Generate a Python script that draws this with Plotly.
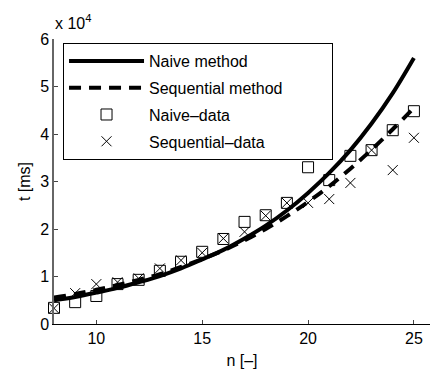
import plotly.graph_objects as go

n_curve = list(range(8, 26))
naive_method = [5000, 5700, 6600, 7600, 8800, 10100, 11700, 13600, 15600, 18000,
                20700, 23900, 27600, 31800, 36600, 42200, 48600, 56000]
seq_method = [5600, 6300, 7200, 8200, 9300, 10500, 12000, 13700, 15500, 17600,
              20000, 22700, 25700, 29000, 32700, 36700, 41000, 45500]

n_data = list(range(8, 26))
naive_data = [3400, 4600, 5900, 8400, 9300, 11200, 13100, 15200, 17900, 21500,
              22900, 25500, 33000, 30300, 35400, 36600, 40800, 44800]
seq_data = [3300, 6500, 8400, 8800, 9600, 11700, 13400, 15000, 18000, 19400,
            22800, 25500, 25500, 26300, 29700, 36600, 32400, 39200]

ytick_vals = [0, 10000, 20000, 30000, 40000, 50000, 60000]
ytick_text = ["0", "1", "2", "3", "4", "5", "6"]
xtick_vals = [10, 15, 20, 25]

FONT = "Liberation Sans, Arial, Helvetica, sans-serif"
PAD = "\u00a0" * 10

fig = go.Figure()
fig.add_trace(go.Scatter(x=n_curve, y=naive_method, mode="lines", name="Naive method",
                         line=dict(color="black", width=4, shape="spline"),
                         legendgroup="a"))
fig.add_trace(go.Scatter(x=n_curve, y=seq_method, mode="lines", name="Sequential method" + PAD,
                         line=dict(color="black", width=4, dash="12px,8px", shape="spline"),
                         legendgroup="b"))
fig.add_trace(go.Scatter(x=n_data, y=naive_data, mode="markers", name="Naive\u2013data",
                         marker=dict(symbol="square-open", size=11, color="black",
                                     line=dict(width=1, color="black")),
                         cliponaxis=False, legendgroup="c"))
fig.add_trace(go.Scatter(x=n_data, y=seq_data, mode="markers", name="Sequential\u2013data",
                         marker=dict(symbol="x-thin-open", size=10, color="black",
                                     line=dict(width=1, color="black")),
                         cliponaxis=False, legendgroup="d"))

fig.update_layout(
    width=430, height=371,
    margin=dict(l=54, r=0, t=39, b=47),
    paper_bgcolor="white", plot_bgcolor="white",
    font=dict(family=FONT, size=16, color="black"),
    showlegend=True,
    legend=dict(x=0.024, y=0.986, xanchor="left", yanchor="top",
                bgcolor="white", bordercolor="black", borderwidth=1,
                font=dict(size=16, family=FONT), tracegroupgap=3,
                itemwidth=75),
    xaxis=dict(range=[8, 25.76], tickvals=xtick_vals, ticks="inside", ticklen=4,
               showline=True, linecolor="black", linewidth=1, showgrid=False,
               zeroline=False, tickfont=dict(size=16),
               title=dict(text="n [\u2013]", font=dict(size=16), standoff=8)),
    yaxis=dict(range=[0, 60000], tickvals=ytick_vals, ticktext=ytick_text,
               ticks="inside", ticklen=4, showline=True, linecolor="#666666",
               linewidth=1.5, showgrid=False, zeroline=False, tickfont=dict(size=16),
               title=dict(text="t [ms]", font=dict(size=16), standoff=6)),
    annotations=[dict(text="x 10<sup>4</sup>", x=-0.003, y=1.0, xref="paper", yref="paper",
                      xanchor="left", yanchor="bottom", showarrow=False,
                      font=dict(size=16, family=FONT), yshift=5)],
)

fig.write_html("out.html")
